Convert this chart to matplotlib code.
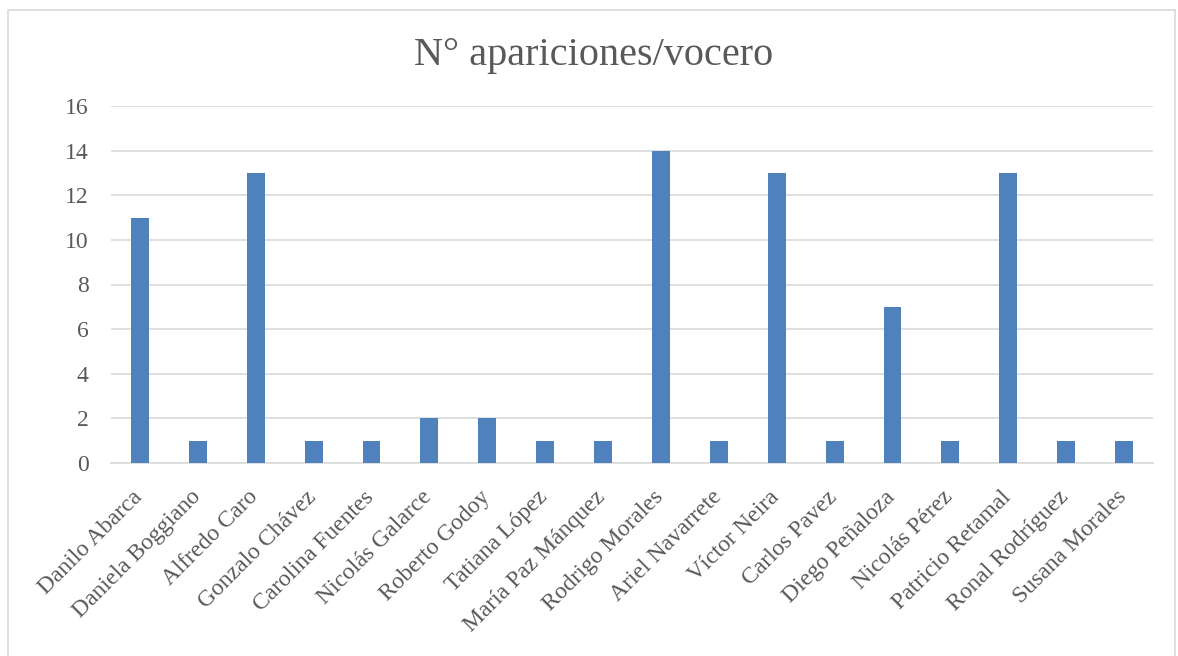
import numpy as np
import matplotlib.pyplot as plt
from matplotlib.patches import Rectangle
from matplotlib.transforms import ScaledTranslation

voceros = ['Danilo Abarca', 'Daniela Boggiano', 'Alfredo Caro', 'Gonzalo Chávez',
           'Carolina Fuentes', 'Nicolás Galarce', 'Roberto Godoy', 'Tatiana López',
           'María Paz Mánquez', 'Rodrigo Morales', 'Ariel Navarrete', 'Víctor Neira',
           'Carlos Pavez', 'Diego Peñaloza', 'Nicolás Pérez', 'Patricio Retamal',
           'Ronal Rodríguez', 'Susana Morales']
apariciones = [11, 1, 13, 1, 1, 2, 2, 1, 1, 14, 1, 13, 1, 7, 1, 13, 1, 1]
yticks = [0, 2, 4, 6, 8, 10, 12, 14, 16]

plt.rcParams['font.family'] = ['Liberation Serif', 'DejaVu Serif']
txt = '#595959'

fig = plt.figure(figsize=(11.78, 6.56), dpi=100)
fig.patches.append(Rectangle((8 / 1178, -0.1), 1167 / 1178, 1.1 - 10 / 656,
                             transform=fig.transFigure, fill=False,
                             edgecolor='#D9D9D9', linewidth=1.2))
ax = fig.add_axes([111 / 1178, 1 - 463 / 656, 1042 / 1178, 357 / 656])

x = np.arange(len(voceros))
ax.bar(x, apariciones, width=0.31, color='#4F81BD', zorder=3)
ax.set_xlim(-0.5, len(voceros) - 0.5)
ax.set_ylim(0, 16)
ax.set_yticks(yticks)
ax.set_xticks(x)
ax.set_xticklabels(voceros, rotation=45, ha='right', rotation_mode='anchor')
ax.tick_params(axis='both', length=0, colors=txt, labelsize=17)
ax.tick_params(axis='y', pad=16)
ax.tick_params(axis='x', pad=17)
shift = ScaledTranslation(-8 / 100, 0, fig.dpi_scale_trans)
for lab in ax.get_xticklabels():
    lab.set_transform(lab.get_transform() + shift)
ax.grid(axis='y', color='#D9D9D9', linewidth=1.2, zorder=0)
for s in ['top', 'right', 'left']:
    ax.spines[s].set_visible(False)
ax.spines['bottom'].set_color('#D9D9D9')
ax.spines['bottom'].set_linewidth(1.2)
fig.text(594 / 1178, 1 - 55 / 656, 'N° apariciones/vocero', ha='center', va='center',
         fontsize=29, color=txt)

plt.savefig('out.png', dpi=100)
